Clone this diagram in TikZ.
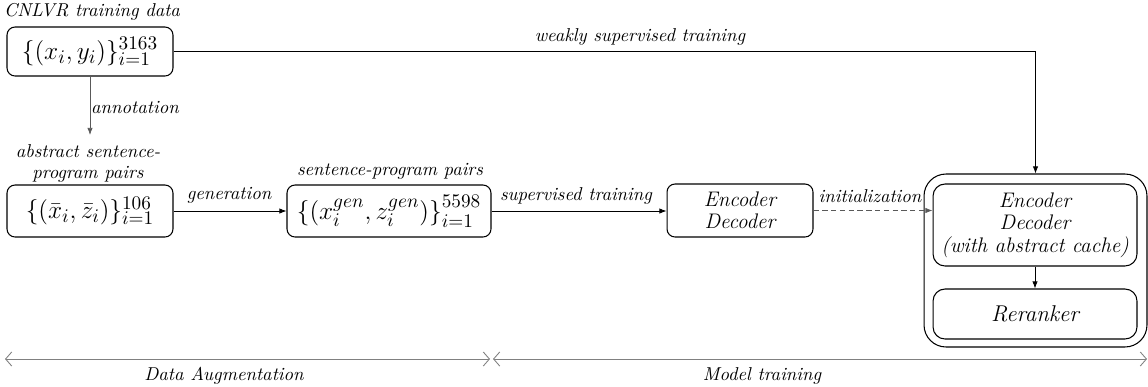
\documentclass[tikz,border=0pt]{standalone}
\usetikzlibrary{arrows.meta}
\begin{document}
\begin{tikzpicture}[x=0.02cm,y=-0.02cm,
    box/.style={draw,rounded corners=0.16cm,line width=0.6pt,inner sep=0pt,align=center},
    lbl/.style={font=\fontsize{10.6}{12}\selectfont\itshape,inner sep=1pt,align=center},
    boxtext/.style={font=\fontsize{12}{12.8}\selectfont\itshape},
    mathtext/.style={font=\fontsize{15}{17}\selectfont},
    flow/.style={-{Latex[length=4pt,width=3pt]},line width=0.4pt},
    span/.style={{Straight Barb[length=3.5pt,width=8pt]}-{Straight Barb[length=3.5pt,width=8pt]},gray,line width=0.5pt}]
  \useasboundingbox (0,0) rectangle (1148,386);
  % data side
  \node[lbl] (cnlvr) at (92,12) {CNLVR training data};
  \node[box,mathtext,minimum width=3.32cm,minimum height=0.98cm] (train) at (90,51.5)
       {$\{(x_i,y_i)\}_{i=1}^{3163}$};
  \node[lbl] (abst) at (88,163) {abstract sentence-\\program pairs};
  \node[box,mathtext,minimum width=3.32cm,minimum height=1.04cm] (abspairs) at (90,211)
       {$\{(\bar{x}_i,\bar{z}_i)\}_{i=1}^{106}$};
  \node[lbl] (sent) at (390,171) {sentence-program pairs};
  \node[box,mathtext,minimum width=4.08cm,minimum height=1.04cm] (genpairs) at (389,211)
       {$\Bigl\{(x_i^{gen},z_i^{gen})\Bigr\}_{i=1}^{5598}$};
  % model side
  \node[box,boxtext,minimum width=2.92cm,minimum height=1.06cm] (encdec) at (740,210.5)
       {Encoder\\Decoder};
  \node[draw,rounded corners=0.44cm,line width=0.6pt,minimum width=4.46cm,minimum height=3.46cm]
       (outer) at (1035.5,260.5) {};
  \node[box,boxtext,rounded corners=0.24cm,minimum width=4.08cm,minimum height=1.64cm]
       (cache) at (1035,225) {Encoder\\Decoder\\(with abstract cache)};
  \node[box,rounded corners=0.24cm,minimum width=4.08cm,minimum height=1.0cm,
       font=\fontsize{13}{14}\selectfont\itshape] (rerank) at (1035,314) {Reranker};
  \coordinate (annotend) at (90,135);
  % connectors
  \draw[flow] (train.east) -- (train.east -| outer.north) -- (outer.north);
  \node[lbl] (weak) at (640,37) {weakly supervised training};
  \draw[flow,gray!70!black] (train.south) -- (annotend);
  \node[lbl] (annot) at (135,108) {annotation};
  \draw[flow] (abspairs.east) -- (genpairs.west);
  \node[lbl] (gen) at (229,195) {generation};
  \draw[flow] (genpairs.east) -- (genpairs.east -| encdec.west);
  \node[lbl] (sup) at (576,196) {supervised training};
  \draw[flow,densely dashed,gray!70!black] (encdec.east) -- (encdec.east -| cache.west);
  \node[lbl] (init) at (870,196) {initialization};
  \draw[flow] (cache.south) -- (rerank.north);
  % phases
  \coordinate (dastart) at (5,359);
  \coordinate (daend) at (490,359);
  \coordinate (mtstart) at (493,359);
  \coordinate (mtend) at (1147,359);
  \draw[span] (dastart) -- (daend);
  \draw[span] (mtstart) -- (mtend);
  \node[lbl] (daug) at (224,376) {Data Augmentation};
  \node[lbl] (mtrain) at (762,376) {Model training};
\end{tikzpicture}
\end{document}
